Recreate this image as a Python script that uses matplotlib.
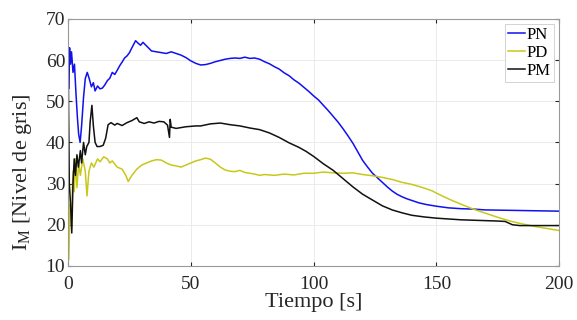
import numpy as np
import matplotlib
matplotlib.use('Agg')
import matplotlib.pyplot as plt

# valores (tiempo [s], nivel de gris)
t_pn = [0, 0.2, 0.6, 1, 1.4, 2, 2.6, 3.2, 3.8, 4.3, 4.9, 5.5, 6.3, 7, 7.8, 8.6, 9.5, 10.3, 11, 12,
        13, 14, 15, 16, 17, 18, 19, 20, 21, 22, 23, 24, 25, 26, 27.5, 28.5, 29.5, 30.5, 32, 34,
        36, 38, 40, 42, 44, 46, 48, 50, 52, 54, 56, 58, 60, 62, 64, 66, 68, 70, 72, 74,
        76, 78, 80, 82, 84, 86, 88, 90, 92, 94, 96, 98, 100, 102, 104, 106, 108, 110, 112, 114,
        116, 118, 120, 122, 124, 126, 128, 130, 132, 134, 136, 138, 140, 143, 146, 150, 155, 160, 165, 170,
        180, 190, 200]
pn = [67, 53, 63, 59, 62, 57, 59, 52, 46, 42, 40, 44, 51, 55.5, 57, 55.5, 53.5, 54.5, 52.5, 53.7,
      53, 53.2, 54, 55, 55.6, 57, 56.5, 57.5, 58.6, 59.5, 60.5, 61, 61.8, 63, 64.7, 64.1, 63.6, 64.3, 63.4, 62.2,
      62, 61.8, 61.6, 62, 61.6, 61.2, 60.6, 59.8, 59.2, 58.8, 58.9, 59.2, 59.6, 59.9, 60.2, 60.4, 60.5, 60.4, 60.7, 60.4,
      60.5, 60.2, 59.6, 59.1, 58.4, 57.8, 56.9, 56.2, 55.2, 54.4, 53.4, 52.4, 51.3, 50.3, 49, 47.7, 46.3, 44.9, 43.3, 41.6,
      39.8, 37.7, 35.6, 34, 32.5, 31.4, 30.3, 29.2, 28.2, 27.4, 26.8, 26.3, 25.9, 25.3, 24.9, 24.5, 24.1, 23.9, 23.8, 23.6,
      23.5, 23.4, 23.3]

t_pd = [0, 0.3, 0.8, 1.3, 2, 2.5, 3, 3.6, 4.3, 5, 6, 7, 7.7, 8.5, 9.5, 10.5, 12, 13, 14.5, 16,
        17, 18, 20, 22, 23.5, 24.5, 26, 28, 30, 32, 34, 36, 38, 40, 42, 44, 46, 48, 50, 52,
        54, 56, 58, 60, 62, 64, 66, 68, 70, 72, 74, 76, 78, 80, 84, 88, 92, 96, 100, 104,
        108, 112, 116, 120, 124, 128, 132, 136, 140, 144, 148, 152, 156, 160, 165, 170, 175, 180, 185, 190,
        195, 200]
pd_ = [40, 11.5, 25, 20, 33, 28, 36, 29, 35, 32, 36, 33, 27, 33, 35, 34, 36, 35.3, 36.5, 36,
       35, 35.5, 34, 33.5, 32, 30.5, 32, 33.5, 34.5, 35, 35.5, 35.8, 35.7, 35, 34.5, 34.3, 34, 34.5, 35, 35.5,
       35.8, 36.2, 35.9, 35, 34, 33.3, 33, 32.9, 33.2, 32.7, 32.5, 32.3, 32, 32.2, 32, 32.3, 32.1, 32.5, 32.5, 32.8,
       32.6, 32.5, 32.6, 32.2, 31.9, 31.5, 31, 30.3, 29.8, 29.1, 28.3, 27.1, 26, 25, 23.8, 22.8, 21.8, 20.9, 20.2, 19.6,
       19.1, 18.6]

t_pm = [0, 0.2, 0.5, 1, 1.5, 2, 2.5, 3, 3.6, 4.2, 5, 5.5, 6.3, 7, 7.6, 8.5, 9, 9.7, 10.3, 11,
        11.8, 13, 14.3, 15.3, 16.3, 17.5, 19, 20, 22, 24, 26, 28, 29, 31, 33, 35, 37, 39, 40.5, 41.3,
        41.6, 42, 44, 46, 48, 50, 52, 54, 58, 62, 66, 70, 74, 78, 82, 86, 90, 94, 97, 100,
        104, 108, 112, 116, 120, 124, 128, 132, 136, 140, 145, 150, 155, 160, 165, 170, 175, 178, 181, 184,
        190, 200]
pm = [69, 48, 30, 25, 18, 30, 36, 32, 37, 34, 38, 35, 40, 37, 39, 40, 45, 49, 44, 40,
      39, 39, 39.3, 41, 44.3, 44.8, 44.2, 44.6, 44.1, 44.8, 45.3, 46, 45, 44.6, 45, 44.7, 45.1, 45, 44.2, 41.2,
      45.6, 43.7, 43.4, 43.6, 43.8, 43.9, 44, 44, 44.5, 44.7, 44.3, 44, 43.5, 43.1, 42.3, 41.2, 39.9, 38.8, 37.8, 36.6,
      34.8, 33.2, 31.2, 29.2, 27.4, 26, 24.6, 23.6, 22.9, 22.3, 21.9, 21.6, 21.4, 21.2, 21.1, 21, 20.9, 20.8, 20, 19.8,
      19.8, 19.8]

plt.rcParams['font.family'] = ['Liberation Serif', 'DejaVu Serif']
plt.rcParams['mathtext.fontset'] = 'custom'
plt.rcParams['mathtext.rm'] = 'Liberation Serif'
plt.rcParams['mathtext.it'] = 'Liberation Serif:italic'

fig = plt.figure(figsize=(5.77, 3.2), dpi=100)
ax = fig.add_axes([0.118, 0.169, 0.851, 0.772])

ax.plot(t_pn, pn, color='#1010f0', lw=1.1, label='PN')
ax.plot(t_pd, pd_, color='#c8c81a', lw=1.1, label='PD')
ax.plot(t_pm, pm, color='#111111', lw=1.1, label='PM')

ax.set_xlim(0, 200)
ax.set_ylim(10, 70)
ax.set_xticks([0, 50, 100, 150, 200])
ax.set_yticks([10, 20, 30, 40, 50, 60, 70])
ax.grid(True, color='#e8e8e8', lw=0.6)
ax.tick_params(direction='in', labelsize=14, colors='#262626', length=3, top=True, right=True, pad=2)
ax.tick_params(axis='x', pad=7)
for s in ax.spines.values():
    s.set_color('#999999')
    s.set_linewidth(0.8)

ax.set_xlabel('Tiempo [s]', fontsize=16, color='#262626', labelpad=0)
ax.set_ylabel(r'I$_\mathrm{M}$ [Nivel de gris]', fontsize=16, color='#262626')
ax.yaxis.set_label_coords(-0.07, 0.38)

leg = ax.legend(loc='upper right', fontsize=12, handlelength=1.0, handletextpad=0.1,
                borderpad=0.2, labelspacing=0.1, borderaxespad=0.3, fancybox=False, framealpha=1)
leg.get_frame().set_edgecolor('#cccccc')
leg.get_frame().set_linewidth(0.6)

fig.savefig('out.png', dpi=100)
